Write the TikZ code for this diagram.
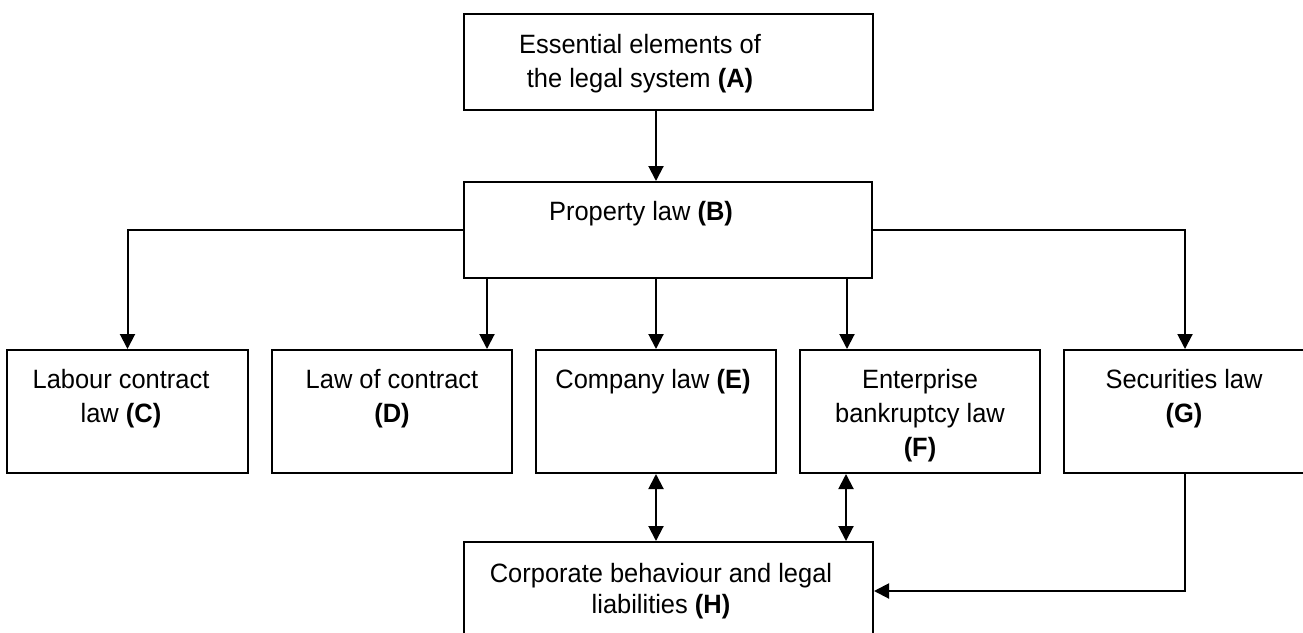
\documentclass[tikz,border=0pt]{standalone}
\usepackage{fontspec}
\setmainfont{Liberation Sans}[FakeStretch=0.96]
\usetikzlibrary{arrows.meta}
\begin{document}
\begin{tikzpicture}[x=1pt,y=-1pt,
  box/.style={draw=black, line width=2pt, inner sep=0pt, fill=none},
  txt/.style={anchor=north, inner sep=0pt, align=center, font=\fontsize{26.5}{34}\selectfont},
  txth/.style={anchor=north, inner sep=0pt, align=center, font=\fontsize{26.5}{31}\selectfont},
  arr/.style={line width=2pt, -{Triangle[length=15pt,width=15pt]}},
  darr/.style={line width=2pt, {Triangle[length=15pt,width=15pt]}-{Triangle[length=15pt,width=15pt]}}
]
\useasboundingbox (0,0) rectangle (1303,632);
% boxes
\node[box, minimum width=409, minimum height=96] (A) at (668.5,62) {};
\node[box, minimum width=408, minimum height=96] (B) at (668,230) {};
\node[box, minimum width=241, minimum height=123] (C) at (127.5,411.5) {};
\node[box, minimum width=240, minimum height=123] (D) at (392,411.5) {};
\node[box, minimum width=240, minimum height=123] (E) at (656,411.5) {};
\node[box, minimum width=240, minimum height=123] (F) at (920,411.5) {};
\node[box, minimum width=242, minimum height=123] (G) at (1185,411.5) {};
\node[box, minimum width=409, minimum height=98] (H) at (668.5,591) {};
% texts
\node[txt] (tA) at (640,29.2) {\strut Essential elements of\\\strut the legal system \textbf{(A)}};
\node[txt] (tB) at (641,196.2) {\strut Property law \textbf{(B)}};
\node[txt] (tC) at (121,364.2) {\strut Labour contract\\\strut law \textbf{(C)}};
\node[txt] (tD) at (392,364.2) {\strut Law of contract\\\strut\textbf{(D)}};
\node[txt] (tE) at (653,364.2) {\strut Company law \textbf{(E)}};
\node[txt] (tF) at (920,364.2) {\strut Enterprise\\\strut bankruptcy law\\\strut\textbf{(F)}};
\node[txt] (tG) at (1184,364.2) {\strut Securities law\\\strut\textbf{(G)}};
\node[txth] (tH) at (661,560.3) {\strut Corporate behaviour and legal\\\strut liabilities \textbf{(H)}};
% connectors
\draw[arr] (A.south -| E.north) -- (B.north -| E.north);
\draw[arr] (B.west) -| (C.north);
\draw[arr] ([xshift=24pt]B.south west) -- ([xshift=24pt]B.south west |- D.north);
\draw[arr] (B.south -| E.north) -- (E.north);
\draw[arr] ([xshift=48pt]F.north west |- B.south) -- ([xshift=48pt]F.north west);
\draw[arr] (B.east) -| (G.north);
\draw[darr] (E.south) -- (E.south |- H.north);
\draw[darr] ([xshift=47pt]F.south west) -- ([xshift=47pt]F.south west |- H.north);
\draw[arr] (G.south) |- (H.east);
\end{tikzpicture}
\end{document}
